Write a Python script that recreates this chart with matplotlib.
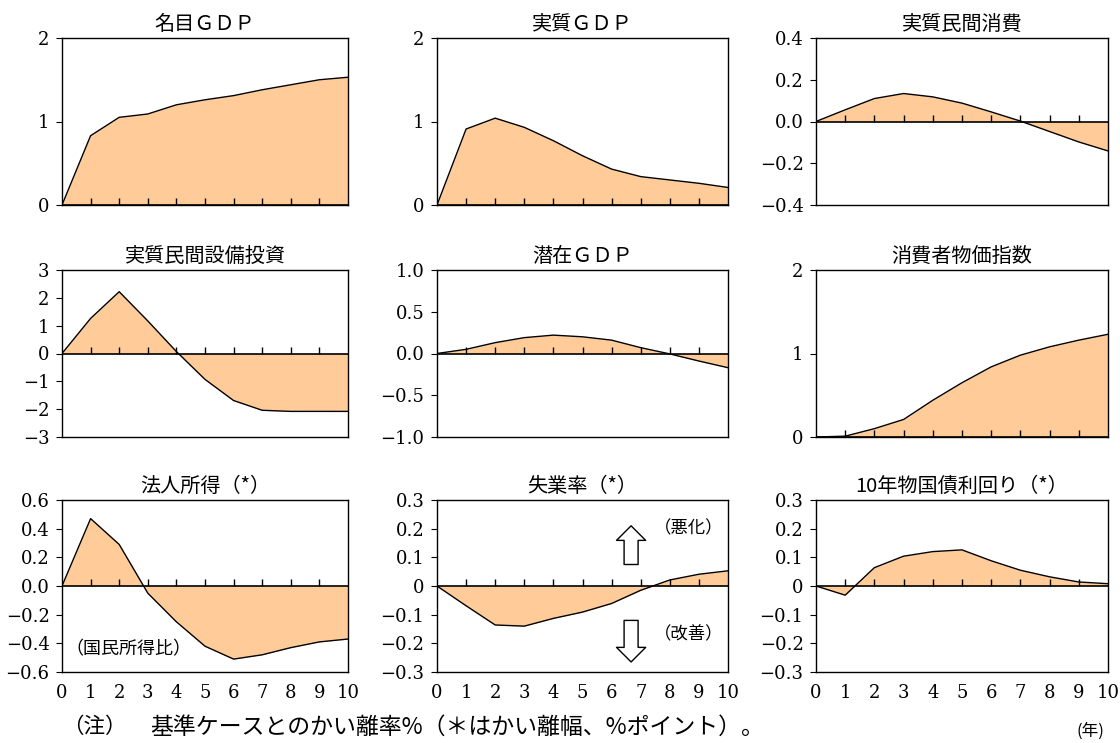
import matplotlib
matplotlib.use("Agg")
import matplotlib.pyplot as plt
from matplotlib.patches import FancyArrowPatch, ArrowStyle

JP = ["Noto Sans CJK JP", "DejaVu Sans"]
NUM = "DejaVu Serif"
FILL = "#FFCC99"

years = list(range(11))

nominal_gdp = [0, 0.83, 1.05, 1.09, 1.20, 1.26, 1.31, 1.38, 1.44, 1.50, 1.53]
real_gdp = [0, 0.91, 1.04, 0.93, 0.77, 0.59, 0.43, 0.34, 0.30, 0.26, 0.21]
real_consumption = [0, 0.056, 0.11, 0.134, 0.118, 0.088, 0.046, 0.002, -0.048, -0.098, -0.141]
real_investment = [0, 1.26, 2.22, 1.17, 0.07, -0.93, -1.69, -2.04, -2.08, -2.08, -2.08]
potential_gdp = [0, 0.05, 0.13, 0.19, 0.22, 0.20, 0.16, 0.07, -0.005, -0.09, -0.17]
cpi = [0, 0.01, 0.10, 0.21, 0.44, 0.65, 0.84, 0.98, 1.08, 1.16, 1.23]
corp_income = [0, 0.47, 0.29, -0.05, -0.25, -0.42, -0.51, -0.48, -0.43, -0.39, -0.37]
unemployment = [0, -0.069, -0.136, -0.140, -0.113, -0.091, -0.061, -0.015, 0.021, 0.041, 0.053]
bond_yield = [0, -0.032, 0.064, 0.104, 0.120, 0.126, 0.088, 0.055, 0.032, 0.014, 0.008]

titles = ["名目ＧＤＰ", "実質ＧＤＰ", "実質民間消費",
          "実質民間設備投資", "潜在ＧＤＰ", "消費者物価指数",
          "法人所得（*）", "失業率（*）", "10年物国債利回り（*）"]
series = [nominal_gdp, real_gdp, real_consumption,
          real_investment, potential_gdp, cpi,
          corp_income, unemployment, bond_yield]

int2 = ([0, 1, 2], ["0", "1", "2"])
yticks = [
    int2,
    int2,
    ([-0.4, -0.2, 0, 0.2, 0.4], ["−0.4", "−0.2", "0.0", "0.2", "0.4"]),
    ([-3, -2, -1, 0, 1, 2, 3], ["−3", "−2", "−1", "0", "1", "2", "3"]),
    ([-1, -0.5, 0, 0.5, 1], ["−1.0", "−0.5", "0.0", "0.5", "1.0"]),
    int2,
    ([-0.6, -0.4, -0.2, 0, 0.2, 0.4, 0.6], ["−0.6", "−0.4", "−0.2", "0.0", "0.2", "0.4", "0.6"]),
    ([-0.3, -0.2, -0.1, 0, 0.1, 0.2, 0.3], ["−0.3", "−0.2", "−0.1", "0", "0.1", "0.2", "0.3"]),
    ([-0.3, -0.2, -0.1, 0, 0.1, 0.2, 0.3], ["−0.3", "−0.2", "−0.1", "0", "0.1", "0.2", "0.3"]),
]

W, H = 1120, 743
fig = plt.figure(figsize=(W / 100, H / 100), dpi=100)

cols = [(62, 348), (437, 728), (816, 1108)]
rows = [(38, 205), (270, 437), (500, 672)]

axes = []
for i in range(9):
    (x0, x1), (y0, y1) = cols[i % 3], rows[i // 3]
    ax = fig.add_axes([x0 / W, 1 - y1 / H, (x1 - x0) / W, (y1 - y0) / H])
    vals = series[i]
    ticks, labels = yticks[i]
    ax.fill_between(years, vals, 0, color=FILL, lw=0)
    ax.plot(years, vals, color="black", lw=1)
    ax.axhline(0, color="black", lw=1.2)
    ax.plot(years[1:10], [0] * 9, ls="none", marker=2, markersize=5,
            markeredgewidth=1, color="black")
    ax.set_xlim(0, 10)
    ax.set_ylim(ticks[0], ticks[-1])
    ax.set_yticks(ticks)
    ax.set_yticklabels(labels, fontfamily=NUM, fontsize=13)
    ax.tick_params(axis="y", direction="out", length=4, width=0.8, pad=5)
    ax.set_xticks(years)
    if i >= 6:
        ax.set_xticklabels([str(y) for y in years], fontfamily=NUM, fontsize=13)
        ax.tick_params(axis="x", length=0, pad=9)
    else:
        ax.set_xticklabels([])
        ax.tick_params(axis="x", length=0)
    for s in ax.spines.values():
        s.set_linewidth(1)
    ax.set_title(titles[i], fontfamily=JP, fontsize=14.5, pad=6)
    axes.append(ax)

axes[6].text(0.12, -0.44, "（国民所得比）", fontfamily=JP, fontsize=13, va="center")

ua = axes[7]
for start, end in [((6.67, 0.075), (6.67, 0.21)), ((6.67, -0.12), (6.67, -0.265))]:
    ua.add_patch(FancyArrowPatch(start, end, shrinkA=0, shrinkB=0,
                                 arrowstyle=ArrowStyle.Simple(head_length=0.5, head_width=1.0, tail_width=0.48),
                                 mutation_scale=21, fc="white", ec="black", lw=1))
ua.text(7.45, 0.2, "（悪化）", fontfamily=JP, fontsize=12.5, va="center")
ua.text(7.45, -0.17, "（改善）", fontfamily=JP, fontsize=12.5, va="center")

fig.text(62 / W, 1 - 727 / H, "（注）", fontfamily=JP, fontsize=15.5, va="center")
fig.text(150 / W, 1 - 727 / H, "基準ケースとのかい離率%（＊はかい離幅、%ポイント）。",
         fontfamily=JP, fontsize=16.5, va="center")
fig.text(1090 / W, 1 - 731 / H, "(年)", fontfamily=JP, fontsize=12, va="center", ha="center")

fig.savefig("out.png", dpi=100)
